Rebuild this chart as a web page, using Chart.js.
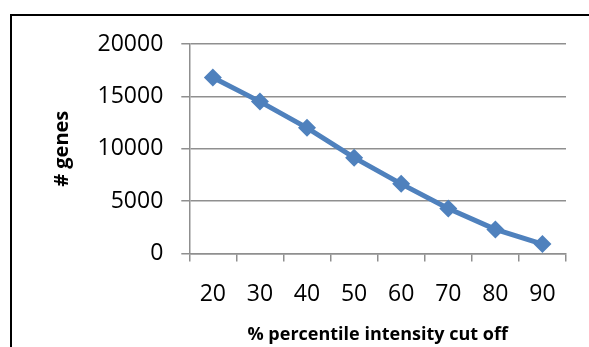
<!DOCTYPE html>
<html>
<head>
<meta charset="utf-8">
<script src="https://cdn.jsdelivr.net/npm/chart.js@4"></script>
<style>
  html, body { margin: 0; padding: 0; background: #fff; overflow: hidden; }
  #wrap { position: relative; width: 589px; height: 347px; overflow: hidden; }
  #frame { position: absolute; left: 10px; top: 14px; width: 700px; height: 500px; border: 2px solid #000; box-sizing: border-box; }
  canvas { position: absolute; left: 0; top: 0; }
</style>
</head>
<body>
<div id="wrap">
  <div id="frame"></div>
  <canvas id="c" width="589" height="347"></canvas>
</div>
<script>
const categories = ['20', '30', '40', '50', '60', '70', '80', '90'];
const geneCounts = [16800, 14500, 12000, 9150, 6650, 4300, 2300, 900];
const yTicks = [0, 5000, 10000, 15000, 20000];
const xTitle = '% percentile intensity cut off';
const yTitle = '# genes';

const gridColor = '#8f8f8f';
const blue = '#4f81bd';

new Chart(document.getElementById('c'), {
  type: 'line',
  data: {
    labels: categories,
    datasets: [{
      data: geneCounts,
      borderColor: blue,
      backgroundColor: blue,
      borderWidth: 5,
      pointStyle: 'rectRot',
      pointRadius: 9,
      pointBorderWidth: 0,
      pointBackgroundColor: blue,
      tension: 0,
      fill: false
    }]
  },
  options: {
    responsive: false,
    animation: false,
    devicePixelRatio: 1,
    layout: { padding: { left: 0, top: 44, right: 23, bottom: 0 } },
    plugins: { legend: { display: false }, tooltip: { enabled: false } },
    scales: {
      x: {
        type: 'category',
        offset: true,
        grid: { offset: true, drawOnChartArea: false, drawTicks: true, tickLength: 8, color: gridColor, lineWidth: 1.5 },
        border: { color: gridColor, width: 1.5 },
        ticks: { color: '#000', font: { family: 'Open Sans', size: 23 }, padding: 19, maxRotation: 0 },
        title: { display: true, text: xTitle, color: '#000', font: { family: 'Open Sans', size: 18, weight: 'bold' }, padding: { top: 0, bottom: 1 } },
        afterFit: s => { s.height = 93.5; }
      },
      y: {
        min: 0, max: 20000,
        afterBuildTicks: s => { s.ticks = yTicks.map(v => ({ value: v })); },
        grid: { color: gridColor, lineWidth: 1.5, tickLength: 8 },
        border: { color: gridColor, width: 1.5 },
        ticks: { color: '#000', font: { family: 'Open Sans', size: 23 }, padding: 18, callback: v => String(v) },
        title: { display: true, text: yTitle, color: '#000', font: { family: 'Open Sans', size: 20, weight: 'bold' }, padding: { top: 50, bottom: 0 } },
        afterFit: s => { s.width = 189.3; }
      }
    }
  }
});
</script>
</body>
</html>
